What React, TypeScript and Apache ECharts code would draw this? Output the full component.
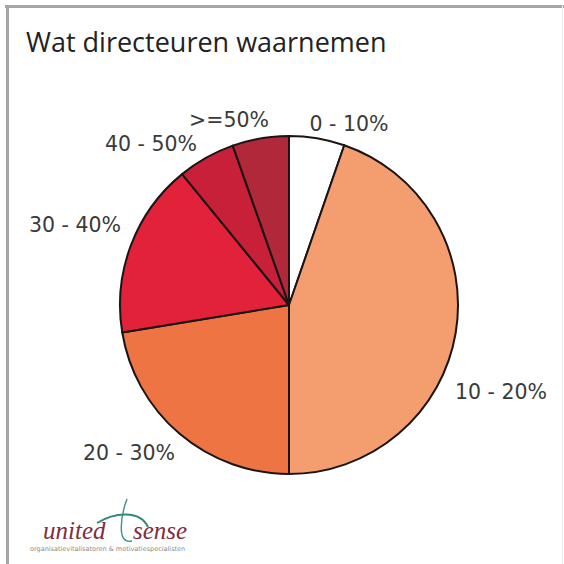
import React, { useEffect, useRef } from "react";
import * as echarts from "echarts";

const categories = ["0 - 10%", "10 - 20%", "20 - 30%", "30 - 40%", "40 - 50%", ">=50%"];
const values = [5.3, 44.7, 22.4, 16.7, 5.5, 5.4];
const sliceColors = ["#ffffff", "#f49d6e", "#ee7443", "#e2223a", "#c9203a", "#b0283a"];
const titleText = "Wat directeuren waarnemen";

// label centre positions (px), styling only
const labelPos: [number, number][] = [
  [349, 124],
  [501, 392],
  [129, 453],
  [75, 225],
  [151, 144],
  [229, 120],
];

export default function App() {
  const ref = useRef<HTMLDivElement>(null);
  useEffect(() => {
    if (!ref.current) return;
    const chart = echarts.init(ref.current, undefined, { renderer: "svg" });
    chart.setOption({
      animation: false,
      backgroundColor: "#ffffff",
      title: {
        text: titleText,
        left: 21,
        top: 23,
        textStyle: {
          fontFamily: "Open Sans",
          fontSize: 27,
          fontWeight: "normal",
          color: "#222222",
        },
      },
      graphic: [
        { type: "line", shape: { x1: 5, y1: 6.5, x2: 564, y2: 6.5 }, style: { stroke: "#a6a6a6", lineWidth: 3 } },
        { type: "line", shape: { x1: 7.5, y1: 5, x2: 7.5, y2: 564 }, style: { stroke: "#a6a6a6", lineWidth: 3 } },
        { type: "line", shape: { x1: 562.5, y1: 5, x2: 562.5, y2: 564 }, style: { stroke: "#eeeeee", lineWidth: 1 } },
        {
          type: "bezierCurve",
          shape: { x1: 127, y1: 499, cpx1: 121, cpy1: 515, cpx2: 116, cpy2: 545, x2: 132, y2: 541 },
          style: { stroke: "#3a9484", lineWidth: 1.4, fill: "none" },
        },
        {
          type: "bezierCurve",
          shape: { x1: 97, y1: 523, cpx1: 115, cpy1: 512, cpx2: 140, cpy2: 510, x2: 148, y2: 527 },
          style: { stroke: "#2f8a78", lineWidth: 2, fill: "none" },
        },
        {
          type: "text",
          x: 43,
          y: 543,
          style: {
            text: "united",
            fontFamily: "Liberation Serif",
            fontStyle: "italic",
            fontSize: 25,
            fill: "#7d2e3e",
            textVerticalAlign: "bottom",
          },
        },
        {
          type: "text",
          x: 133,
          y: 543,
          style: {
            text: "sense",
            fontFamily: "Liberation Serif",
            fontStyle: "italic",
            fontSize: 25,
            fill: "#7d2e3e",
            textVerticalAlign: "bottom",
          },
        },
        {
          type: "text",
          x: 30,
          y: 545,
          style: {
            text: "organisatievitalisatoren & motivatiespecialisten",
            fontFamily: "DejaVu Sans",
            fontSize: 6.5,
            fill: "#8a8a8a",
          },
        },
      ],
      series: [
        {
          type: "pie",
          center: [289, 305],
          radius: 169,
          startAngle: 90,
          clockwise: true,
          avoidLabelOverlap: false,
          data: categories.map((c, i) => ({
            name: c,
            value: values[i],
            itemStyle: { color: sliceColors[i] },
          })),
          itemStyle: { borderColor: "#1a1414", borderWidth: 2 },
          label: {
            show: true,
            position: "outside",
            formatter: "{b}",
            fontFamily: "DejaVu Sans",
            fontSize: 20.5,
            color: "#3a3a3a",
          },
          labelLine: { show: false },
          labelLayout: (p: any) => ({
            x: labelPos[p.dataIndex][0],
            y: labelPos[p.dataIndex][1],
            align: "center",
            verticalAlign: "middle",
          }),
          emphasis: { disabled: true },
        },
      ],
    });
    return () => chart.dispose();
  }, []);
  return (
    <div
      ref={ref}
      style={{ position: "fixed", left: 0, top: 0, width: 564, height: 564, background: "#fff" }}
    />
  );
}
